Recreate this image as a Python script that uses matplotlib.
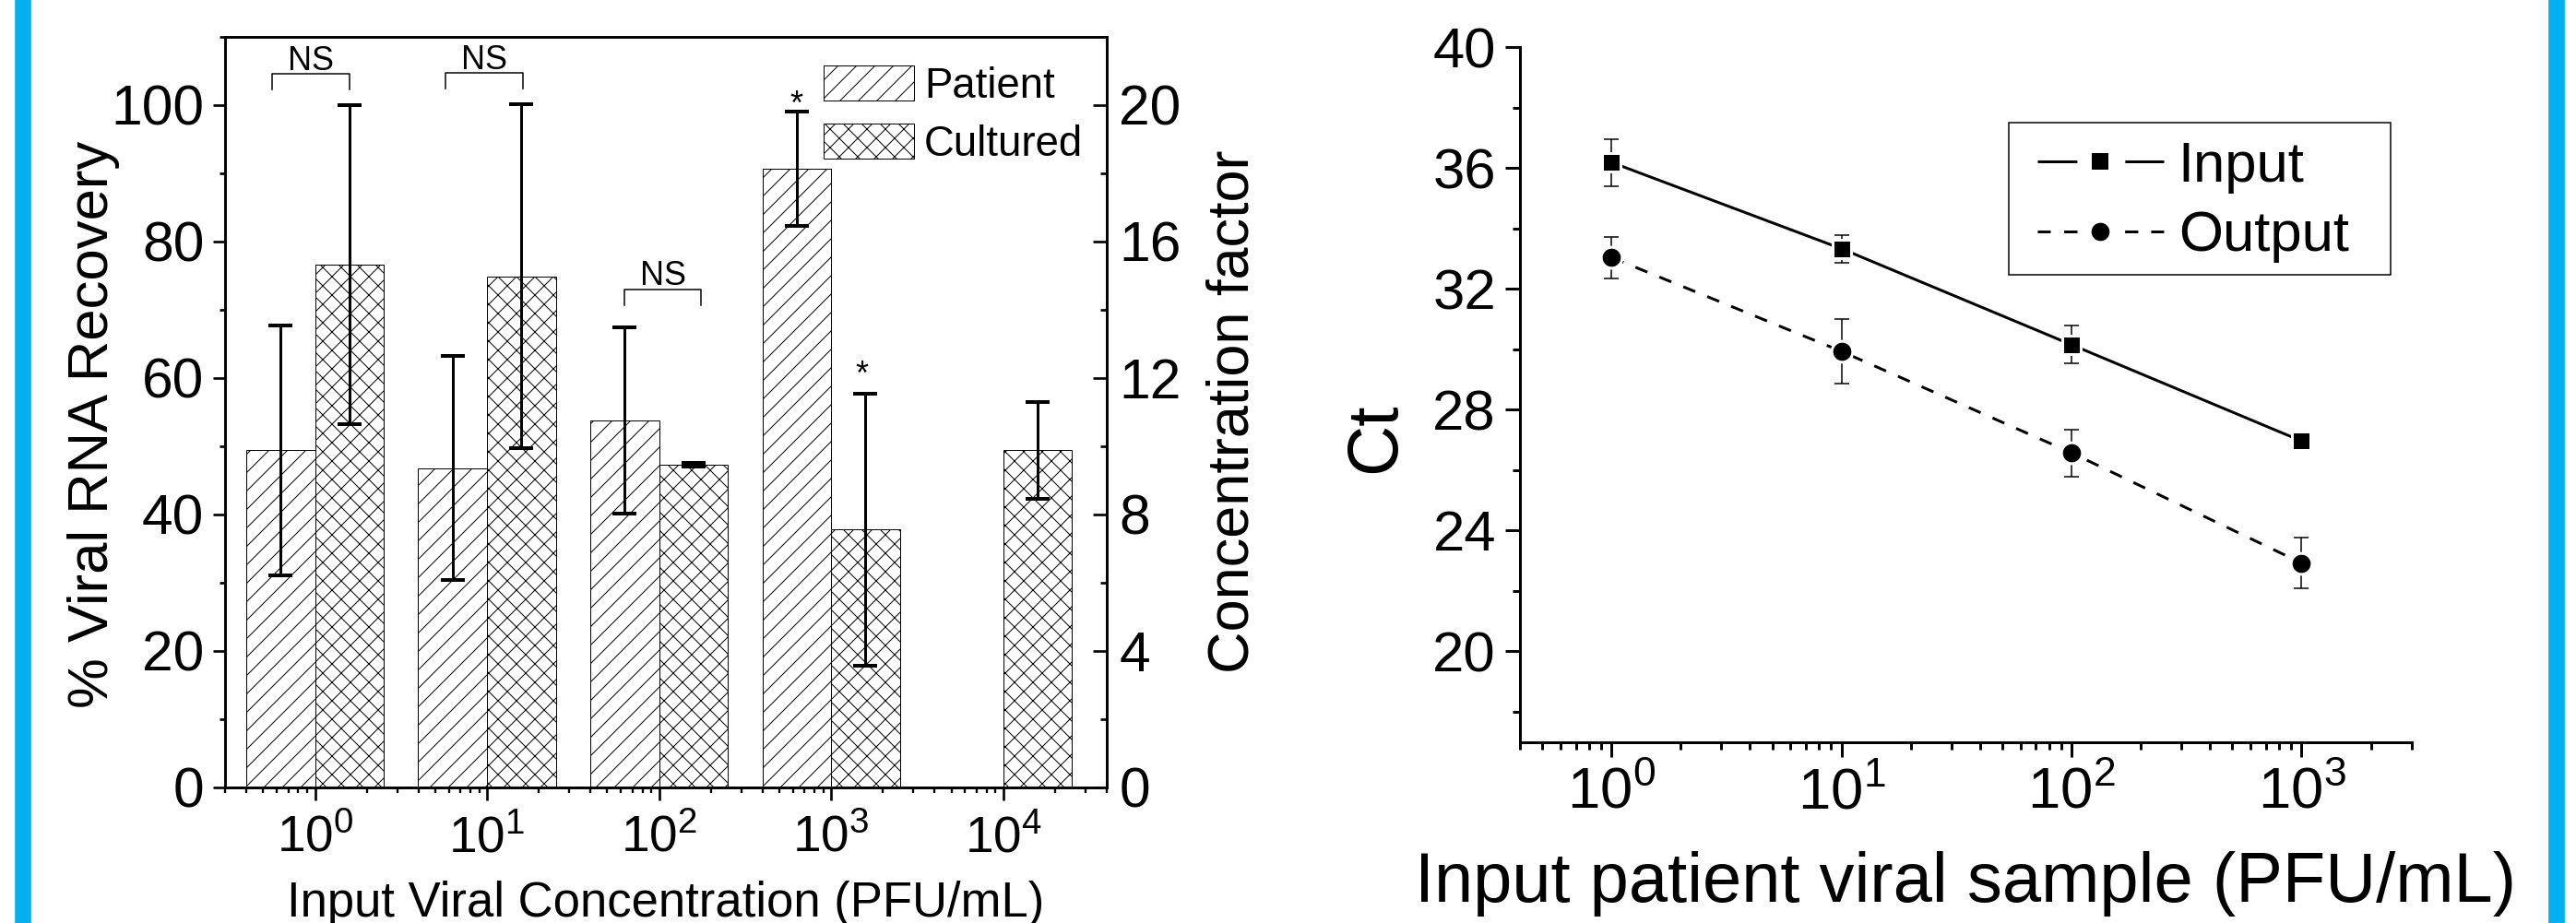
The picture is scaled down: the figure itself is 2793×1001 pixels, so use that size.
import numpy as np
import matplotlib
matplotlib.use('Agg')
import matplotlib.pyplot as plt
from matplotlib.ticker import MultipleLocator
from matplotlib.lines import Line2D
from matplotlib.patches import Patch, Rectangle

plt.rcParams['font.family'] = 'Liberation Sans'
plt.rcParams['mathtext.fontset'] = 'custom'
plt.rcParams['mathtext.rm'] = 'Liberation Sans'
plt.rcParams['mathtext.it'] = 'Liberation Sans:italic'
plt.rcParams['mathtext.bf'] = 'Liberation Sans:bold'
plt.rcParams['mathtext.default'] = 'rm'
plt.rcParams['hatch.linewidth'] = 0.6
plt.rcParams['hatch.color'] = 'black'

# ---- left panel: % viral RNA recovery ----
conc = [1, 10, 100, 1000, 10000]
patient = [49.4, 46.8, 53.8, 90.7, np.nan]
patient_err = [18.3, 16.4, 13.7, 8.4, np.nan]
cultured = [76.6, 74.9, 47.3, 37.8, 49.4]
cultured_err = [23.4, 25.2, 0.3, 19.9, 7.1]

# significance brackets (group, left/right offset in decades, bracket top)
ns_group = [1, 10, 100]
ns_left = [-0.25, -0.24, -0.2]
ns_right = [0.2, 0.21, 0.245]
ns_top = [104.6, 104.7, 73.0]
star_x = [10**2.8, 10**3.18]
star_y = [98.6, 59.1]

# ---- right panel: Ct vs input ----
pfu = [1, 10, 100, 1000]
ct_in = [36.19, 33.33, 30.15, 26.96]
ct_in_err = [0.78, 0.46, 0.63, 0.1]
ct_out = [33.04, 29.93, 26.57, 22.92]
ct_out_err = [0.69, 1.06, 0.78, 0.83]

W, H, DPI = 2793, 1001, 120
fig = plt.figure(figsize=(W / DPI, H / DPI), dpi=DPI)


def fx(px):
    return px / W


def fy(py):
    return 1 - py / H


# side bars of the figure
for x0, x1 in [(17, 33), (2764, 2780)]:
    fig.add_artist(Rectangle((fx(x0), 0), fx(x1) - fx(x0), 1, transform=fig.transFigure,
                             color='#00B0F0', zorder=0))

# ================= left panel =================
ax1 = fig.add_axes([fx(244), fy(854), fx(1200) - fx(244), fy(40) - fy(854)])
c = np.array(conc, float)
p = np.array(patient)
pe = np.array(patient_err)
m = ~np.isnan(p)
w = 10 ** 0.4

ax1.bar(c[m] / w, p[m], width=c[m] - c[m] / w, align='edge', color='white',
        edgecolor='black', linewidth=0.6, hatch='//', zorder=2)
ax1.bar(c, cultured, width=c * w - c, align='edge', color='white',
        edgecolor='black', linewidth=0.6, hatch='xx', zorder=2)
ax1.errorbar(c[m] / np.sqrt(w), p[m], yerr=pe[m], fmt='none', ecolor='black',
             elinewidth=1.8, capsize=7.6, capthick=2.4, zorder=3)
ax1.errorbar(c * np.sqrt(w), cultured, yerr=cultured_err, fmt='none', ecolor='black',
             elinewidth=1.8, capsize=7.6, capthick=2.4, zorder=3)

for g, lo, hi, top in zip(ns_group, ns_left, ns_right, ns_top):
    x0, x1 = g * 10 ** lo, g * 10 ** hi
    ax1.plot([x0, x0, x1, x1], [top - 2.3, top, top, top - 2.3], color='black', lw=0.9)
    ax1.text(np.sqrt(x0 * x1), top + 0.6, 'NS', ha='center', va='baseline', fontsize=21.6)
for sx, sy in zip(star_x, star_y):
    ax1.text(sx, sy, '*', ha='center', va='baseline', fontsize=21.6)

ax1.set_xscale('log')
ax1.set_xlim(0.3, 4e4)
ax1.set_ylim(0, 110)
ax1.set_yticks(range(0, 101, 20))
ax1.yaxis.set_minor_locator(MultipleLocator(10))
ax1.tick_params(axis='y', which='major', direction='out', length=8, width=1.6, labelsize=36.3, pad=5.6)
ax1.tick_params(axis='y', which='minor', direction='out', length=3.6, width=1.6)
ax1.tick_params(axis='x', which='major', direction='out', length=8.4, width=1.6, labelsize=33, pad=9.5)
ax1.tick_params(axis='x', which='minor', direction='out', length=3.6, width=1.4)
for s in ax1.spines.values():
    s.set_linewidth(1.6)

ax1r = ax1.twinx()
ax1r.set_ylim(0, 22)
ax1r.set_yticks(range(0, 21, 4))
ax1r.yaxis.set_minor_locator(MultipleLocator(2))
ax1r.tick_params(axis='y', which='major', direction='in', length=9, width=1.6, labelsize=36.3, pad=8)
ax1r.tick_params(axis='y', which='minor', direction='in', length=4, width=1.6)
for s in ax1r.spines.values():
    s.set_linewidth(1.6)

ax1.legend(handles=[Patch(facecolor='white', edgecolor='black', hatch='//', lw=0.6, label='Patient'),
                    Patch(facecolor='white', edgecolor='black', hatch='xx', lw=0.6, label='Cultured')],
           loc='upper left', bbox_to_anchor=(0.679, 0.962), frameon=False, fontsize=27.3,
           handlelength=2.15, handleheight=0.91, handletextpad=0.24, labelspacing=0.4,
           borderpad=0, borderaxespad=0)

fig.text(fx(101), fy(460.7), '% Viral RNA Recovery', rotation=90, ha='center', va='center', fontsize=37)
fig.text(fx(1336.6), fy(446), 'Concentration factor', rotation=90, ha='center', va='center', fontsize=37.8)
fig.text(fx(722), fy(980), 'Input Viral Concentration (PFU/mL)', ha='center', va='center', fontsize=31.6)

# ================= right panel =================
ax2 = fig.add_axes([fx(1648), fy(804.5), fx(2614.5) - fx(1648), fy(51.3) - fy(804.5)])
ax2.errorbar(pfu, ct_in, yerr=ct_in_err, fmt='none', ecolor='black', elinewidth=0.9,
             capsize=4.6, capthick=0.9, zorder=2)
ax2.errorbar(pfu, ct_out, yerr=ct_out_err, fmt='none', ecolor='black', elinewidth=0.9,
             capsize=4.6, capthick=0.9, zorder=2)
ax2.plot(pfu, ct_in, color='black', lw=1.8, marker='s', ms=12.3, mfc='black', mec='white',
         mew=1.8, zorder=3)
ax2.plot(pfu, ct_out, color='black', lw=1.8, ls=(0, (4.67, 4.67)), marker='o', ms=13.6,
         mfc='black', mec='white', mew=1.8, zorder=3)

ax2.set_xscale('log')
ax2.set_xlim(0.4, 3000)
ax2.set_ylim(17, 40)
ax2.set_yticks(range(20, 41, 4))
ax2.yaxis.set_minor_locator(MultipleLocator(2))
ax2.tick_params(axis='both', which='major', direction='out', length=9.6, width=1.8)
ax2.tick_params(axis='both', which='minor', direction='out', length=4.8, width=1.8)
ax2.tick_params(axis='y', labelsize=37, pad=6)
ax2.tick_params(axis='x', labelsize=38, pad=6)
ax2.spines['top'].set_visible(False)
ax2.spines['right'].set_visible(False)
for s in ('left', 'bottom'):
    ax2.spines[s].set_linewidth(1.8)

# legend: frameless entries plus a plain rectangular frame
h_in = Line2D([], [], color='black', lw=1.8, ls=(0, (14.3, 17.3)), marker='s', ms=10.5,
              mfc='black', mec='black', mew=0)
h_out = Line2D([], [], color='black', lw=1.8, ls=(0, (4.67, 4.87, 4.8, 17.2, 4.77, 4.67)),
               marker='o', ms=11.8, mfc='black', mec='black', mew=0)
ax2.legend([h_in, h_out], ['Input', 'Output'], loc='upper left',
           bbox_to_anchor=(0.580, 0.8655), borderaxespad=0, fontsize=37,
           handlelength=2.227, handletextpad=0.255, labelspacing=0.305, borderpad=0,
           frameon=False)
ax2.add_patch(Rectangle((0.5484, 0.6725), 0.4283, 0.2191, transform=ax2.transAxes,
                        fill=False, edgecolor='black', lw=0.9, clip_on=False, zorder=4))

fig.text(fx(1491.7), fy(475), 'Ct', rotation=90, ha='center', va='center', fontsize=46)
fig.text(fx(2131), fy(958.6), 'Input patient viral sample (PFU/mL)', ha='center', va='center',
         fontsize=45.5)

fig.savefig('out.png', dpi=DPI)
